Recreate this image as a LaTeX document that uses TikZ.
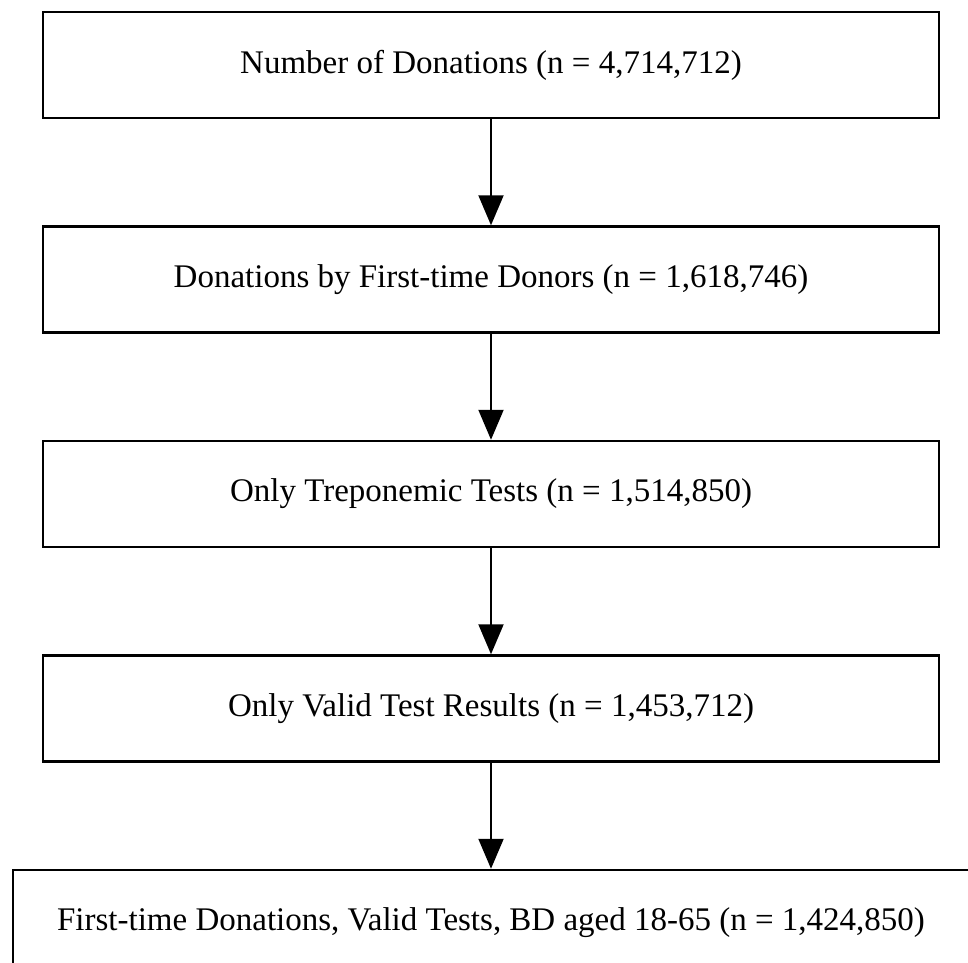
\documentclass[tikz,border=0pt]{standalone}
\usepackage{fontspec}
\setmainfont{Liberation Serif}
\usetikzlibrary{positioning,arrows.meta}

\tikzset{
	stage/.style={draw,line width=2.5pt,minimum width=896pt,minimum height=106pt,inner sep=0pt,font=\fontsize{33}{39}\selectfont},
	flow/.style={line width=2pt,-{Triangle[length=30pt,width=25pt]}}
}

\begin{document}
\begin{tikzpicture}
		\useasboundingbox (0,0) rectangle (968pt,-962pt);
		\clip (0,0) rectangle (968pt,-962pt);

		\node[stage] at (491pt,-65pt)						(0)		{Number of Donations (n = 4,714,712)};
		\node[stage,node distance=106pt,below=of 0]			(1)		{Donations by First-time Donors (n = 1,618,746)};
		\node[stage,node distance=106pt,below=of 1]			(2)		{Only Treponemic Tests (n = 1,514,850)};
		\node[stage,node distance=106pt,below=of 2]			(3)		{Only Valid Test Results (n = 1,453,712)};
		\node[stage,node distance=106pt,below=of 3,minimum width=956pt]	(4)	{First-time Donations, Valid Tests, BD aged 18-65 (n = 1,424,850)};

		\draw[flow]	(0)	--	(1);
		\draw[flow]	(1)	--	(2);
		\draw[flow]	(2)	--	(3);
		\draw[flow]	(3)	--	(4);
	\end{tikzpicture}
\end{document}
